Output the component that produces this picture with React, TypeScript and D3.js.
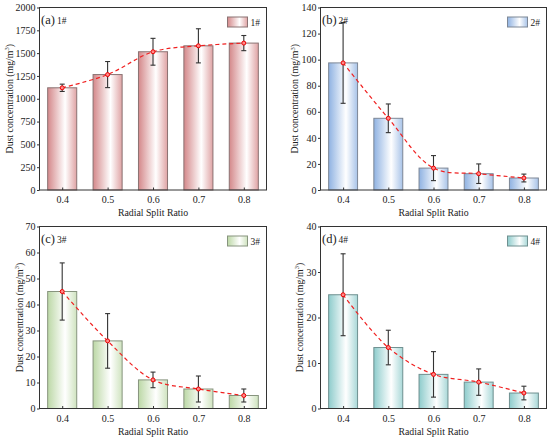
import React, { useRef, useEffect } from 'react';
import * as d3 from 'd3';

const ratios = [0.4, 0.5, 0.6, 0.7, 0.8];

const dust1 = [1120, 1265, 1515, 1580, 1610];
const err1 = [40, 143, 147, 187, 83];
const ticks1 = [0, 250, 500, 750, 1000, 1250, 1500, 1750, 2000];

const dust2 = [97.5, 55, 16.8, 12.5, 9.2];
const err2 = [31, 11, 9.6, 7.5, 3];
const ticks2 = [0, 20, 40, 60, 80, 100, 120, 140];

const dust3 = [45, 26, 11, 7.5, 5];
const err3 = [11, 10.5, 3, 5, 2.5];
const ticks3 = [0, 10, 20, 30, 40, 50, 60, 70];

const dust4 = [25, 13.4, 7.5, 5.8, 3.4];
const err4 = [9, 3.8, 5, 2.9, 1.5];
const ticks4 = [0, 10, 20, 30, 40];

const panels = [
  { tag: '(a)', name: '1#', values: dust1, errors: err1, ticks: ticks1, left: 39.5, top: 7.5, right: 266.5, bottom: 190, titleOff: 27, color: '#d4888a', color2: '#dfa3a4', stroke: '#8a7272' },
  { tag: '(b)', name: '2#', values: dust2, errors: err2, ticks: ticks2, left: 320.5, top: 7.5, right: 546.5, bottom: 190, titleOff: 22.5, color: '#8fb2e2', color2: '#a8c3e8', stroke: '#7d8796' },
  { tag: '(c)', name: '3#', values: dust3, errors: err3, ticks: ticks3, left: 39.5, top: 226.5, right: 266.5, bottom: 408.5, titleOff: 17, color: '#bcd8a6', color2: '#cfe3bf', stroke: '#87947e' },
  { tag: '(d)', name: '4#', values: dust4, errors: err4, ticks: ticks4, left: 320.5, top: 226.5, right: 546.5, bottom: 408.5, titleOff: 18, color: '#8ecccc', color2: '#a9d8d8', stroke: '#6f9090' },
];

const FONT = '"Liberation Serif", "Times New Roman", serif';

const App: React.FC = () => {
  const chartRef = useRef(null);

  useEffect(() => {
    d3.select(chartRef.current).selectAll('*').remove();

    const svg = d3.select(chartRef.current)
      .append('svg')
      .attr('width', 550)
      .attr('height', 440)
      .style('display', 'block')
      .style('font-family', FONT);

    const defs = svg.append('defs');

    panels.forEach((p, k) => {
      const grad = defs.append('linearGradient')
        .attr('id', 'barGrad' + k)
        .attr('x1', '0').attr('x2', '1').attr('y1', '0').attr('y2', '0');
      grad.append('stop').attr('offset', '0%').attr('stop-color', p.color);
      grad.append('stop').attr('offset', '60%').attr('stop-color', '#ffffff');
      grad.append('stop').attr('offset', '100%').attr('stop-color', p.color2);

      const x = d3.scaleLinear().domain([0.35, 0.85]).range([p.left, p.right]);
      const y = d3.scaleLinear().domain([0, p.ticks[p.ticks.length - 1]]).range([p.bottom, p.top]);
      const bw = (x(0.5) - x(0.4)) * 0.64;

      const g = svg.append('g');

      // bars
      g.selectAll('.bar')
        .data(p.values)
        .enter().append('rect')
        .attr('class', 'bar')
        .attr('x', (d, i) => x(ratios[i]) - bw / 2)
        .attr('y', d => y(d))
        .attr('width', bw)
        .attr('height', d => y(0) - y(d))
        .attr('fill', `url(#barGrad${k})`)
        .attr('stroke', p.stroke)
        .attr('stroke-width', 1);

      // error bars
      const eb = g.selectAll('.err')
        .data(p.values)
        .enter().append('g')
        .attr('class', 'err')
        .attr('stroke', '#333')
        .attr('stroke-width', 1.1);
      eb.append('line')
        .attr('x1', (d, i) => x(ratios[i])).attr('x2', (d, i) => x(ratios[i]))
        .attr('y1', (d, i) => y(d - p.errors[i])).attr('y2', (d, i) => y(d + p.errors[i]));
      eb.append('line')
        .attr('x1', (d, i) => x(ratios[i]) - 2.5).attr('x2', (d, i) => x(ratios[i]) + 2.5)
        .attr('y1', (d, i) => y(d + p.errors[i])).attr('y2', (d, i) => y(d + p.errors[i]));
      eb.append('line')
        .attr('x1', (d, i) => x(ratios[i]) - 2.5).attr('x2', (d, i) => x(ratios[i]) + 2.5)
        .attr('y1', (d, i) => y(d - p.errors[i])).attr('y2', (d, i) => y(d - p.errors[i]));

      // dashed trend line
      const line = d3.line<number>()
        .x((d, i) => x(ratios[i]))
        .y(d => y(d))
        .curve(d3.curveCatmullRom.alpha(0.5));
      g.append('path')
        .datum(p.values)
        .attr('d', line)
        .attr('fill', 'none')
        .attr('stroke', '#f02020')
        .attr('stroke-width', 1.2)
        .attr('stroke-dasharray', '4,3');

      g.selectAll('.pt')
        .data(p.values)
        .enter().append('circle')
        .attr('class', 'pt')
        .attr('cx', (d, i) => x(ratios[i]))
        .attr('cy', d => y(d))
        .attr('r', 2)
        .attr('fill', '#ff8a8a')
        .attr('stroke', '#f00000')
        .attr('stroke-width', 1);

      // axes
      const yAxis = g.append('g')
        .attr('transform', `translate(${p.left},0)`)
        .call(d3.axisLeft(y).tickValues(p.ticks).tickSize(2.5).tickPadding(1.5).tickFormat(d3.format('d')));
      yAxis.select('.domain').remove();
      yAxis.selectAll('line').attr('stroke', '#333');
      yAxis.selectAll('text').style('font-family', FONT).style('font-size', '10px').attr('fill', '#222');

      const xAxis = g.append('g')
        .attr('transform', `translate(0,${p.bottom})`)
        .call(d3.axisBottom(x).tickValues(ratios).tickSize(-2.5).tickPadding(6).tickFormat(d3.format('.1f')));
      xAxis.select('.domain').remove();
      xAxis.selectAll('line').attr('stroke', '#333');
      xAxis.selectAll('text').style('font-family', FONT).style('font-size', '10px').attr('fill', '#222');

      // frame
      g.append('rect')
        .attr('x', p.left).attr('y', p.top)
        .attr('width', p.right - p.left).attr('height', p.bottom - p.top)
        .attr('fill', 'none')
        .attr('stroke', '#333')
        .attr('stroke-width', 1);

      // axis titles
      g.append('text')
        .attr('x', (p.left + p.right) / 2)
        .attr('y', p.bottom + 26)
        .attr('text-anchor', 'middle')
        .style('font-size', '9.8px')
        .attr('fill', '#222')
        .text('Radial Split Ratio');

      const yt = g.append('text')
        .attr('transform', `translate(${p.left - p.titleOff},${(p.top + p.bottom) / 2}) rotate(-90)`)
        .attr('text-anchor', 'middle')
        .style('font-size', '9.8px')
        .attr('fill', '#222');
      yt.append('tspan').text('Dust concentration (mg/m');
      yt.append('tspan').attr('dy', -3.5).style('font-size', '6.5px').text('3');
      yt.append('tspan').attr('dy', 3.5).text(')');

      // panel tag
      const tag = g.append('text')
        .attr('x', p.left + 1.5)
        .attr('y', p.top + 16.5)
        .attr('fill', '#222');
      tag.append('tspan').style('font-size', '12.5px').text(p.tag);
      tag.append('tspan').attr('dx', 2).style('font-size', '9.5px').text(p.name);

      // legend
      g.append('rect')
        .attr('x', p.right - 39).attr('y', p.top + 9.5)
        .attr('width', 20).attr('height', 10)
        .attr('fill', `url(#barGrad${k})`)
        .attr('stroke', p.stroke)
        .attr('stroke-width', 1);
      g.append('text')
        .attr('x', p.right - 16)
        .attr('y', p.top + 18.5)
        .style('font-size', '9.5px')
        .attr('fill', '#222')
        .text(p.name);
    });
  }, []);

  return <div ref={chartRef} style={{ position: 'absolute', left: 0, top: 0 }} />;
};

export default App;
